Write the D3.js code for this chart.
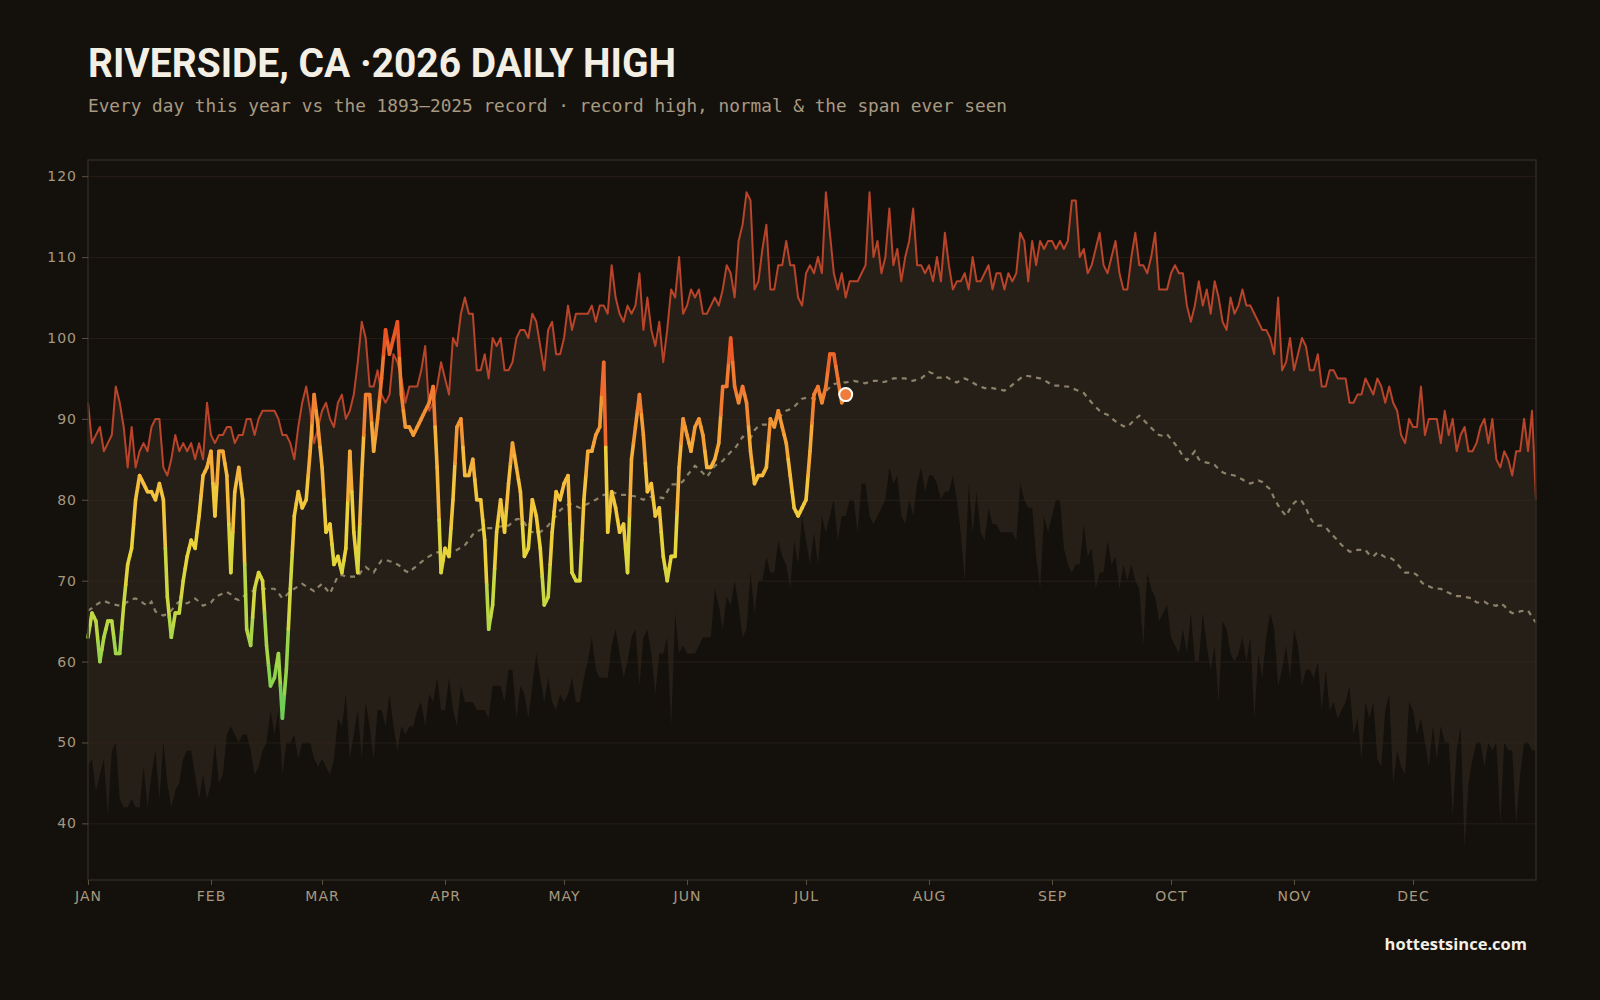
<!DOCTYPE html>
<html><head><meta charset="utf-8">
<script src="https://cdn.jsdelivr.net/npm/d3@7"></script>
<style>
html,body{margin:0;padding:0;background:#14110d;}
svg{display:block;}
</style></head><body>
<svg id="chart" width="1600" height="1000"></svg>
<script>
// ---- DATA ----
const monthLabels = ["JAN","FEB","MAR","APR","MAY","JUN","JUL","AUG","SEP","OCT","NOV","DEC"];
const monthStartDays = [0,31,59,90,120,151,181,212,243,273,304,334];
const yTickValues = [40,50,60,70,80,90,100,110,120];

// record high per day of year (index 0 = Jan 1)
const recordHigh = [
92,87,88,89,86,87,88,94,92,89,84,89,84,86,87,86,89,90,90,84,83,85,88,86,87,86,87,85,87,85,
92,88,87,88,88,89,89,87,88,88,90,90,88,90,91,91,91,91,90,88,88,87,85,89,92,94,91,87,89,91,
92,90,89,92,93,90,91,93,97,102,100,94,94,96,93,92,93,98,97,95,92,94,94,94,96,99,91,92,94,97,
95,93,100,99,103,105,103,103,96,96,98,95,100,99,100,96,96,97,100,101,101,100,103,102,99,96,101,102,98,98,
100,104,101,103,103,103,103,104,102,104,104,103,109,105,103,102,104,103,104,108,101,105,101,99,102,97,101,106,105,110,
103,104,106,105,106,103,103,104,105,104,106,109,108,105,112,114,118,117,106,107,111,114,106,106,109,109,112,109,109,105,
104,108,109,108,110,108,118,113,108,106,108,105,107,107,107,108,109,118,110,112,108,110,116,109,111,107,110,112,116,109,
109,108,109,107,110,107,113,109,106,107,107,108,106,110,107,107,108,109,106,108,108,106,108,107,108,113,112,107,112,109,
112,111,112,112,111,112,111,112,117,117,110,111,108,109,111,113,109,108,110,112,108,106,106,110,113,109,109,108,110,113,
106,106,106,108,109,108,108,104,102,104,107,104,106,103,107,105,102,101,105,103,104,106,104,104,103,102,101,101,100,98,
105,96,97,100,96,98,100,99,96,96,98,94,94,96,96,95,95,95,92,92,93,93,95,94,93,95,94,92,94,92,
91,88,87,90,89,89,94,88,90,90,90,87,91,88,90,86,88,89,86,86,87,89,90,87,90,85,84,86,85,83,
86,86,90,86,91,80
];

// lowest daily high ever recorded (bottom of the span)
const lowestHigh = [
47,48,44,46,48,41,49,50,43,42,42,43,42,42,47,42,46,49,43,50,45,42,44,45,48,49,49,46,43,46,
43,45,50,45,46,51,52,51,50,51,51,49,46,47,49,50,54,51,54,46,50,50,51,48,50,50,50,48,47,48,
47,46,48,53,52,56,48,51,54,48,55,52,48,54,54,52,56,52,49,52,51,52,52,54,55,52,56,55,58,54,
54,58,54,52,57,55,55,55,54,54,54,53,57,57,57,55,59,59,53,57,56,53,57,61,58,55,58,55,54,56,
55,56,58,55,55,58,60,63,59,58,58,58,62,64,61,58,60,63,64,57,63,64,61,56,61,61,63,52,66,61,
62,61,61,61,62,63,63,63,69,67,64,68,67,70,67,63,64,71,66,70,70,73,71,71,75,73,72,69,75,72,
78,75,72,76,72,78,76,78,80,75,78,78,80,80,76,82,82,78,77,78,79,80,84,82,83,78,77,80,78,82,
84,81,83,83,82,80,81,81,83,80,76,70,82,76,81,76,75,79,77,77,76,76,76,76,75,82,80,79,79,73,
69,78,76,78,80,80,74,72,71,72,72,77,73,74,69,71,71,75,72,73,69,72,70,72,70,69,62,71,69,68,
65,66,67,63,62,61,64,61,66,60,60,66,62,59,62,55,65,64,61,60,61,63,60,63,53,61,58,63,66,64,
57,59,62,58,64,62,57,59,59,58,60,54,59,54,55,53,54,55,57,51,53,48,55,53,55,48,47,54,56,45,
49,47,46,55,54,51,53,50,47,52,48,52,50,50,41,49,52,37,45,48,50,50,47,50,49,50,40,50,49,49,
40,46,50,50,49,49
];

// normal daily high (1893-2025)
const normalHigh = [
66.3,66.6,67.0,67.3,67.5,67.3,67.1,67.0,66.9,67.1,67.4,67.7,67.8,67.6,67.2,66.9,67.4,66.2,65.9,65.7,
65.9,66.3,67.0,67.4,67.3,67.2,67.5,67.8,67.4,66.9,67.1,67.3,67.9,68.2,68.4,68.6,68.3,67.8,67.6,68.0,
68.4,68.6,68.8,69.0,69.0,69.0,69.0,69.0,68.5,67.8,68.2,68.7,69.0,69.3,69.6,69.3,69.0,68.7,69.2,69.6,
69.0,68.4,69.5,70.6,70.7,70.5,70.5,70.5,70.5,71.2,71.7,71.3,71.0,71.8,72.5,72.6,72.4,72.3,72.0,71.7,
71.2,71.0,71.5,71.9,72.3,72.7,73.0,73.3,73.5,73.5,73.5,73.5,73.5,73.8,74.1,74.4,75.0,75.7,76.1,76.3,
76.5,76.5,76.5,76.6,76.7,76.8,76.8,77.2,77.6,77.6,77.2,76.3,76.0,76.0,76.0,76.4,76.8,77.5,78.0,78.7,
79.1,79.4,79.5,79.2,79.0,79.3,79.5,79.8,80.0,80.3,80.6,80.8,81.0,80.8,80.6,80.6,80.6,80.5,80.4,80.2,
80.0,80.2,80.4,80.4,80.3,80.2,81.0,81.9,81.9,81.9,82.3,83.0,83.6,84.2,83.8,83.3,82.8,83.5,84.2,84.5,
84.8,85.4,85.9,86.3,87.0,87.8,87.6,87.6,88.6,89.1,89.3,89.3,89.3,89.3,90.0,90.6,91.0,91.2,91.5,92.0,
92.5,92.6,92.6,92.5,92.3,92.8,93.4,93.9,94.3,94.4,94.5,94.5,94.6,94.7,94.6,94.5,94.4,94.6,94.7,94.7,
94.5,94.6,94.8,95.0,95.0,95.0,95.0,94.8,94.7,94.9,95.0,95.4,95.8,95.6,95.1,95.1,95.3,95.0,94.7,94.5,
94.8,95.0,94.8,94.5,94.2,94.0,93.8,93.8,93.8,93.7,93.6,93.5,93.8,94.2,94.6,95.0,95.3,95.3,95.2,95.1,
95.0,94.8,94.5,94.2,94.1,94.1,94.0,94.0,93.8,93.6,93.4,93.2,92.6,92.0,91.5,91.0,90.7,90.5,90.1,89.7,
89.4,89.1,89.0,89.5,90.0,90.4,89.9,89.4,88.9,88.4,88.0,87.9,88.1,87.5,86.9,86.2,85.4,84.9,85.4,86.0,
85.0,84.7,84.6,84.5,84.3,83.8,83.4,83.2,83.1,83.0,82.8,82.5,82.2,82.0,82.2,82.4,82.2,81.7,81.3,80.2,
79.3,78.6,78.0,78.9,79.6,80.0,79.8,79.0,77.8,77.1,76.8,76.8,76.6,76.0,75.5,75.0,74.4,74.0,73.6,73.6,
73.8,73.8,73.8,73.2,73.0,73.5,73.2,72.9,72.9,72.6,72.1,71.5,71.0,71.0,71.0,70.7,69.9,69.4,69.3,69.1,
69.0,69.0,68.7,68.5,68.3,68.1,68.1,68.0,67.9,67.8,67.3,67.3,67.4,67.1,67.0,66.9,67.2,66.9,66.3,66.0,
66.0,66.2,66.3,66.3,65.5,64.8
];

// 2026 observed daily high, Jan 1 .. Jul 11
const daily2026 = [
63,66,65,60,63,65,65,61,61,67,72,74,80,83,82,81,81,80,82,80,68,63,66,66,70,73,75,74,78,83,
84,86,78,86,86,83,71,81,84,80,64,62,69,71,70,62,57,58,61,53,59,69,78,81,79,80,86,93,89,84,
76,77,72,73,71,74,86,76,71,83,93,93,86,90,95,101,98,100,102,93,89,89,88,89,90,91,92,94,84,71,
74,73,80,89,90,83,83,85,80,80,75,64,67,76,80,76,82,87,84,81,73,74,80,78,74,67,68,76,81,80,
82,83,71,70,70,80,86,86,88,89,97,76,81,79,76,77,71,85,89,93,88,81,82,78,79,73,70,73,73,84,
90,88,86,89,90,88,84,84,85,87,94,94,100,94,92,94,92,86,82,83,83,84,90,89,91,89,87,83,79,78,
79,80,86,93,94,92,94,98,98,95,92,93
];

// ---- CHART ----
const svg = d3.select("#chart");
const W = 1600, H = 1000;
const plot = {left: 88, right: 1536, top: 160, bottom: 880};

svg.append("rect").attr("width", W).attr("height", H).attr("fill", "#14110d");

const x = d3.scaleLinear().domain([0, 365]).range([plot.left, plot.right]);
const y = d3.scaleLinear().domain([33, 122]).range([plot.bottom, plot.top]);

// band: span ever seen
const band = d3.area()
  .x((d, i) => x(i))
  .y0((d, i) => y(lowestHigh[i]))
  .y1(d => y(d))
  .curve(d3.curveLinear);
svg.append("path").datum(recordHigh).attr("d", band).attr("fill", "#261f17");

// grid
const grid = svg.append("g").attr("transform", `translate(${plot.left},0)`)
  .call(d3.axisLeft(y).tickValues(yTickValues).tickSize(-(plot.right - plot.left)).tickFormat(""));
grid.select(".domain").remove();
grid.selectAll("line").attr("stroke", "#3a2a1e").attr("stroke-opacity", 0.5).attr("stroke-width", 1);

// normal dashed
const lineGen = d3.line().x((d, i) => x(i)).y(d => y(d));
svg.append("path").datum(normalHigh).attr("d", lineGen)
  .attr("fill", "none").attr("stroke", "#a09379").attr("stroke-width", 2.2)
  .attr("stroke-dasharray", "5,5").attr("stroke-opacity", 0.85);

// record high line
svg.append("path").datum(recordHigh).attr("d", lineGen)
  .attr("fill", "none").attr("stroke", "#b8442a").attr("stroke-width", 2)
  .attr("stroke-linejoin", "round");

// 2026 colored line
const tempColor = d3.scaleLinear()
  .domain([50, 58, 66, 74, 82, 89, 95, 101])
  .range(["#5ec95a", "#8dd44e", "#c2d843", "#ebd43a", "#f6bf3e", "#f49a35", "#f07530", "#ec5424"])
  .clamp(true);
const g26 = svg.append("g").attr("fill", "none").attr("stroke-width", 3.6).attr("stroke-linecap", "round");
for (let i = 0; i < daily2026.length - 1; i++) {
  const x0 = x(i), y0 = y(daily2026[i]), x1 = x(i + 1), y1 = y(daily2026[i + 1]);
  const mx = (x0 + x1) / 2, my = (y0 + y1) / 2;
  g26.append("path").attr("d", d3.line()([[x0, y0], [mx, my]])).attr("stroke", tempColor(daily2026[i]));
  g26.append("path").attr("d", d3.line()([[mx, my], [x1, y1]])).attr("stroke", tempColor(daily2026[i + 1]));
}
const last = daily2026.length - 1;
svg.append("circle").attr("cx", x(last)).attr("cy", y(daily2026[last])).attr("r", 6.5)
  .attr("fill", "#ee7d3c").attr("stroke", "#ffffff").attr("stroke-width", 2);

// plot frame
svg.append("rect").attr("x", plot.left).attr("y", plot.top)
  .attr("width", plot.right - plot.left).attr("height", plot.bottom - plot.top)
  .attr("fill", "none").attr("stroke", "#2e281f").attr("stroke-width", 1.5);

// y axis
const yAxis = svg.append("g").attr("transform", `translate(${plot.left},0)`)
  .call(d3.axisLeft(y).tickValues(yTickValues).tickSize(6).tickPadding(5));
yAxis.select(".domain").remove();
yAxis.selectAll("line").attr("stroke", "#5a5040");
yAxis.selectAll("text").attr("fill", "#a8987e").style("font-family", "'DejaVu Sans', sans-serif")
  .style("font-size", "14px").style("letter-spacing", "1px");

// x axis
const xAxis = svg.append("g").attr("transform", `translate(0,${plot.bottom})`)
  .call(d3.axisBottom(x).tickValues(monthStartDays).tickFormat((d, i) => monthLabels[i]).tickSize(5).tickPadding(6));
xAxis.select(".domain").remove();
xAxis.selectAll("line").attr("stroke", "#5a5040");
xAxis.selectAll("text").attr("fill", "#a8987e").style("font-family", "'DejaVu Sans', sans-serif")
  .style("font-size", "14px").style("letter-spacing", "1px");

// titles
svg.append("text").attr("x", 88).attr("y", 77)
  .attr("fill", "#f4efe4").style("font-family", "'Liberation Sans Narrow', 'Roboto', sans-serif")
  .style("font-weight", "700").style("font-size", "41px")
  .attr("textLength", 588).attr("lengthAdjust", "spacingAndGlyphs")
  .text("RIVERSIDE, CA ·2026 DAILY HIGH");
svg.append("text").attr("x", 88).attr("y", 112)
  .attr("fill", "#a89a82").style("font-family", "'DejaVu Sans Mono', monospace")
  .style("font-size", "17.75px")
  .text("Every day this year vs the 1893–2025 record · record high, normal & the span ever seen");
svg.append("text").attr("x", 1527).attr("y", 950).attr("text-anchor", "end")
  .attr("fill", "#f4efe4").style("font-family", "'Open Sans', sans-serif")
  .style("font-weight", "700").style("font-size", "16.5px")
  .text("hottestsince.com");
</script>
</body></html>
